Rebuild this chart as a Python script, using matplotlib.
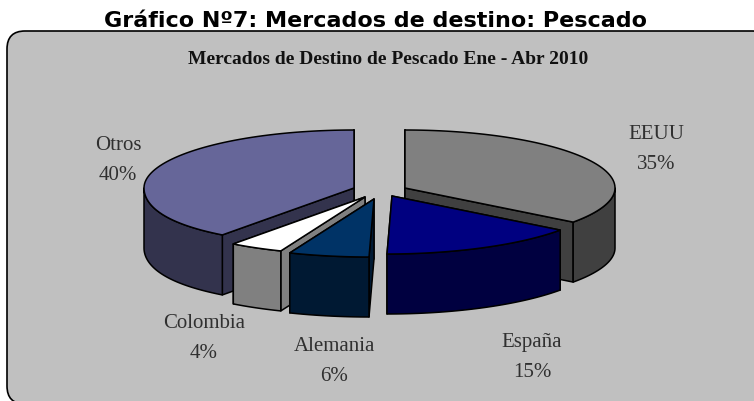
import numpy as np
import matplotlib
matplotlib.use('Agg')
import matplotlib.pyplot as plt
from matplotlib.patches import FancyBboxPatch, Polygon

# chart values
names = ['EEUU', 'España', 'Alemania', 'Colombia', 'Otros']
shares = [35, 15, 6, 4, 40]
top_colors = ['#808080', '#000080', '#003366', '#FFFFFF', '#666699']
side_colors = ['#404040', '#000040', '#001933', '#808080', '#33334D']

# where each exploded slice has its tip, in pixels
tip_x = [405, 392, 374, 365, 354]
tip_y = [189, 197, 200, 198, 189]
label_x = [656, 532, 334, 204, 118]
label_y = [135, 343, 347, 324, 146]

RX = 210
RY = 58
DEPTH = 60
draw_order = [4, 0, 3, 2, 1]

fig = plt.figure(figsize=(7.54, 4.02), dpi=100)
ax = fig.add_axes([0, 0, 1, 1])
ax.set_xlim(0, 754)
ax.set_ylim(402, 0)
ax.axis('off')

ax.add_patch(FancyBboxPatch((7, 32), 763, 373, boxstyle='round,pad=0,rounding_size=18',
                            fc='#C0C0C0', ec='black', lw=1.2, zorder=0))


# Point on the rim of a slice, angle clockwise from 12 o'clock
def rim(cx, cy, deg):
    t = np.radians(deg)
    front = np.clip(-np.cos(t), 0, 1)
    left = np.clip(-np.sin(t), 0, 1)
    # the original's perspective pulls the front of the rim to the left
    x = cx + RX * np.sin(t) - 5 * front ** 2 - 22 * (front * left) ** 2
    y = cy - RY * np.cos(t)
    return np.column_stack([x, y])


def face(pts, color, z):
    ax.add_patch(Polygon(pts, closed=True, fc=color, ec='black', lw=1.1, joinstyle='round', zorder=z))


def draw_slice(i, start, end, z):
    cx, cy = tip_x[i], tip_y[i]
    down = np.array([0, DEPTH])
    tip = np.array([[cx, cy]])
    arc = rim(cx, cy, np.linspace(start, end, 80))

    # cut faces: the one turned away goes first so it ends up covered
    cuts = [(start, -np.sin(np.radians(start))), (end, np.sin(np.radians(end)))]
    cuts.sort(key=lambda c: c[1])
    for deg, _ in cuts:
        p = rim(cx, cy, np.array([deg]))
        face(np.vstack([tip, p, p + down, tip + down]), side_colors[i], z)

    # outer wall only where the rim faces the viewer
    lo, hi = max(start, 90), min(end, 270)
    if hi > lo:
        wall = rim(cx, cy, np.linspace(lo, hi, 60))
        face(np.vstack([wall, (wall + down)[::-1]]), side_colors[i], z + 0.1)

    face(np.vstack([tip, arc]), top_colors[i], z + 0.2)


edges = np.concatenate([[0], np.cumsum(shares)]) / sum(shares) * 360
for n, i in enumerate(draw_order):
    draw_slice(i, edges[i], edges[i + 1], 2 + n)

serif = 'Liberation Serif'
for i in range(len(names)):
    ax.text(label_x[i], label_y[i], names[i], family=serif, fontsize=15, color='#303030',
            ha='center', va='center', zorder=20)
    ax.text(label_x[i], label_y[i] + 30, '%d%%' % shares[i], family=serif, fontsize=15, color='#303030',
            ha='center', va='center', zorder=20)

ax.text(388, 59, 'Mercados de Destino de Pescado Ene - Abr 2010', family=serif, fontsize=14,
        fontweight='bold', color='#111111', ha='center', va='center', zorder=20)
ax.text(376, 21, 'Gráfico Nº7: Mercados de destino: Pescado', family='DejaVu Sans', fontsize=16,
        fontweight='bold', color='black', ha='center', va='center', zorder=20)

fig.savefig('out.png', dpi=100)
